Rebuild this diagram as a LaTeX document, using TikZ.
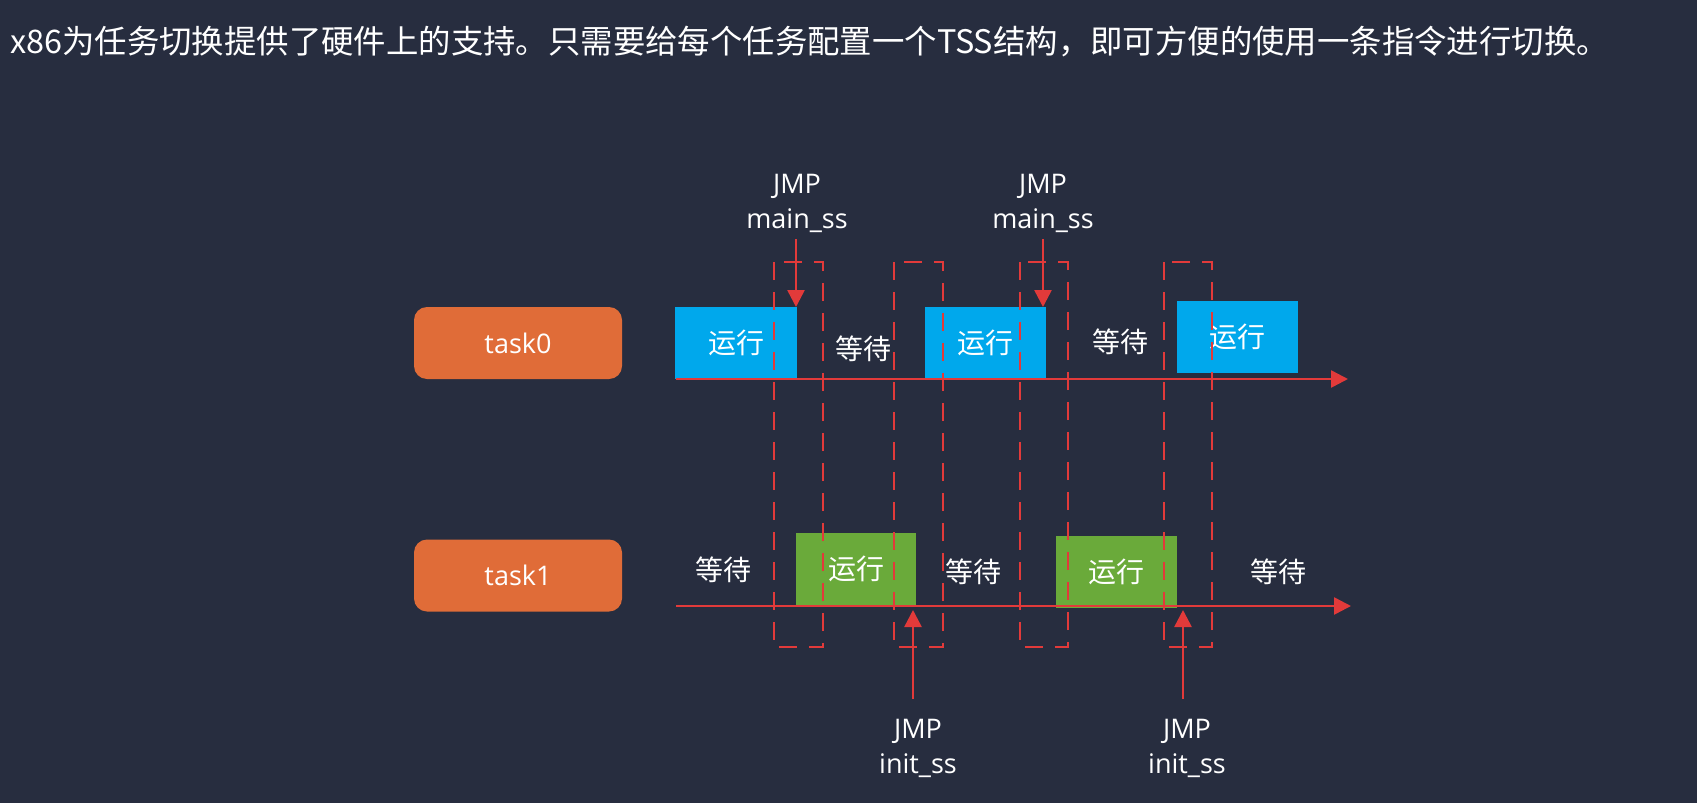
\documentclass[tikz,border=0pt]{standalone}
\usepackage{fontspec}
\setmainfont{Open Sans}
\newfontfamily\cjk{Noto Sans CJK SC}
\usetikzlibrary{arrows.meta}
\definecolor{bg}{RGB}{39,45,63}
\definecolor{taskor}{RGB}{224,108,56}
\definecolor{runblue}{RGB}{0,168,236}
\definecolor{rungreen}{RGB}{106,170,58}
\definecolor{redline}{RGB}{226,58,58}
\tikzset{
  taskbox/.style={fill=taskor, rounded corners=13pt, minimum width=208pt, minimum height=72pt,
    inner sep=0pt, text=white, font=\fontsize{27pt}{33pt}\selectfont, text height=20pt, text depth=0pt},
  cjklbl/.style={inner sep=0pt, text=white, font=\cjk\fontsize{28pt}{34pt}\selectfont, text height=21pt, text depth=0pt},
  runbox/.style={cjklbl, minimum width=121pt, minimum height=72pt},
  bluerun/.style={runbox, fill=runblue},
  greenrun/.style={runbox, fill=rungreen},
  axisline/.style={draw=redline, line width=2.5pt, -{Triangle[length=17pt,width=17pt]}},
  jmparrow/.style={draw=redline, line width=2.5pt, -{Triangle[length=17pt,width=17pt]}},
  switchbox/.style={draw=redline, line width=2.5pt, dash pattern=on 18pt off 12pt},
  jmplbl/.style={inner sep=0pt, text=white, align=center, font=\fontsize{27pt}{35pt}\selectfont}
}
\begin{document}
\begin{tikzpicture}[x=1pt,y=-1pt]
\fill[bg] (0,0) rectangle (1697,803);
\useasboundingbox (0,0) rectangle (1697,803);

% title
\node[anchor=base west, inner sep=0pt, text=white, font=\cjk\fontsize{32.4pt}{38pt}\selectfont] (title) at (10,53)
  {x86为任务切换提供了硬件上的支持。只需要给每个任务配置一个TSS结构，即可方便的使用一条指令进行切换。};

% tasks
\node[taskbox] (task0) at (518,343) {task0};
\node[taskbox] (task1) at (518,575.5) {task1};

% run boxes
\node[bluerun, minimum width=122pt] (b1) at (736,343) {运行};
\node[bluerun] (b2) at (985.5,342.5) {运行};
\node[bluerun] (b3) at (1237.5,337) {运行};
\node[greenrun, minimum width=120pt] (g1) at (856,569) {运行};
\node[greenrun] (g2) at (1116.5,572) {运行};

% waiting labels
\node[cjklbl] (w1) at (863,348.5) {等待};
\node[cjklbl] (w2) at (1120,341.5) {等待};
\node[cjklbl] (w3) at (723,569.5) {等待};
\node[cjklbl] (w4) at (973,571.5) {等待};
\node[cjklbl] (w5) at (1278,571.5) {等待};

% axes
\coordinate (ax0s) at (676,379);
\coordinate (ax0e) at (1348,379);
\coordinate (ax1s) at (676,606);
\coordinate (ax1e) at (1351,606);
\draw[axisline] (ax0s) -- (ax0e);
\draw[axisline] (ax1s) -- (ax1e);

% switch windows
\coordinate (d1a) at (774,262); \coordinate (d1b) at (823,647);
\coordinate (d2a) at (894,262); \coordinate (d2b) at (943,647);
\coordinate (d3a) at (1020,262); \coordinate (d3b) at (1068,647);
\coordinate (d4a) at (1164,262); \coordinate (d4b) at (1212,647);
\draw[switchbox] (d1a) rectangle (d1b);
\draw[switchbox] (d2a) rectangle (d2b);
\draw[switchbox] (d3a) rectangle (d3b);
\draw[switchbox] (d4a) rectangle (d4b);

% JMP labels (base = baseline of the last line)
\node[jmplbl, anchor=base] (j1) at (797,228) {JMP\\main\_ss};
\node[jmplbl, anchor=base] (j2) at (1043,228) {JMP\\main\_ss};
\node[jmplbl, anchor=base] (j3) at (918,773) {JMP\\init\_ss};
\node[jmplbl, anchor=base] (j4) at (1187,773) {JMP\\init\_ss};

% JMP arrows
\coordinate (a1s) at (796,239); \coordinate (a1e) at (796,307);
\coordinate (a2s) at (1043,239); \coordinate (a2e) at (1043,307);
\coordinate (a3s) at (913,699); \coordinate (a3e) at (913,610);
\coordinate (a4s) at (1183,699); \coordinate (a4e) at (1183,610);
\draw[jmparrow] (a1s) -- (a1e);
\draw[jmparrow] (a2s) -- (a2e);
\draw[jmparrow] (a3s) -- (a3e);
\draw[jmparrow] (a4s) -- (a4e);
\end{tikzpicture}
\end{document}
